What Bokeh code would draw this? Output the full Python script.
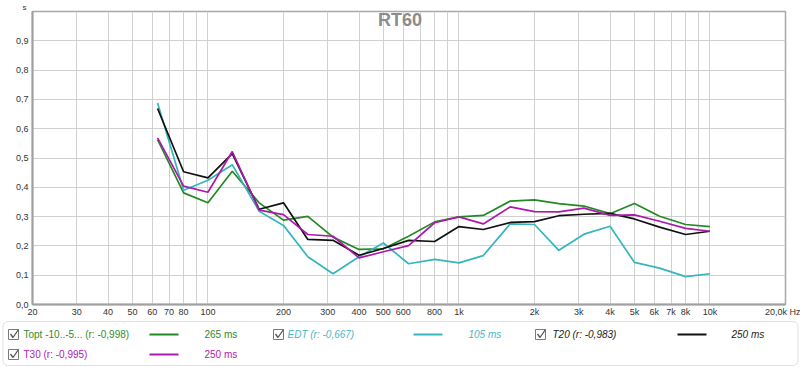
from bokeh.plotting import figure
from bokeh.models import Range1d, FixedTicker, Label, BoxAnnotation, ColumnDataSource
from bokeh.embed import file_html
from bokeh.resources import INLINE
from bokeh.core.properties import value

# ---------------- data ----------------
freqs = [63, 80, 100, 125, 160, 200, 250, 315, 400, 500, 630, 800,
         1000, 1250, 1600, 2000, 2500, 3150, 4000, 5000, 6300, 8000, 10000]

topt = [0.563, 0.381, 0.347, 0.455, 0.347, 0.288, 0.301, 0.230, 0.188, 0.190, 0.233, 0.282,
        0.299, 0.304, 0.353, 0.357, 0.344, 0.336, 0.310, 0.345, 0.301, 0.273, 0.266]
edt = [0.688, 0.390, 0.424, 0.477, 0.318, 0.270, 0.163, 0.105, 0.163, 0.210, 0.139, 0.154,
       0.142, 0.167, 0.275, 0.273, 0.185, 0.240, 0.267, 0.144, 0.124, 0.095, 0.105]
t20 = [0.669, 0.453, 0.432, 0.515, 0.325, 0.347, 0.222, 0.219, 0.168, 0.191, 0.219, 0.215,
       0.266, 0.256, 0.280, 0.283, 0.303, 0.308, 0.311, 0.292, 0.264, 0.239, 0.250]
t30 = [0.569, 0.404, 0.383, 0.522, 0.322, 0.307, 0.239, 0.233, 0.159, 0.180, 0.201, 0.279,
       0.299, 0.275, 0.333, 0.317, 0.316, 0.329, 0.304, 0.306, 0.284, 0.260, 0.250]

series = [topt, edt, t20, t30]
legend_labels = ["Topt -10..-5... (r: -0,998)", "EDT (r: -0,667)", "T20 (r: -0,983)", "T30 (r: -0,995)"]
legend_values = ["265 ms", "105 ms", "250 ms", "250 ms"]
legend_italic = [False, True, True, False]
line_colors = ["#238a23", "#35b5be", "#111111", "#ad19ad"]
text_colors = ["#2e8b2e", "#45b8c8", "#222222", "#b020b0"]

y_ticks = [0.0, 0.1, 0.2, 0.3, 0.4, 0.5, 0.6, 0.7, 0.8, 0.9]
y_tick_labels = ["0,0", "0,1", "0,2", "0,3", "0,4", "0,5", "0,6", "0,7", "0,8", "0,9"]
x_ticks = [20, 30, 40, 50, 60, 70, 80, 90, 100, 200, 300, 400, 500, 600, 700, 800, 900,
           1000, 2000, 3000, 4000, 5000, 6000, 7000, 8000, 9000, 10000, 20000]
x_tick_labels = ["20", "30", "40", "50", "60", "70", "80", "", "100", "200", "300", "400", "500",
                 "600", "", "800", "", "1k", "2k", "3k", "4k", "5k", "6k", "7k", "8k", "", "10k",
                 "20,0k Hz"]
title_text = "RT60"
y_unit = "s"

FONT = "Liberation Sans"
W = 800
H_MAIN = 319
H_LEG = 48
FL, FR, FT, FB = 32, 785, 11, 305   # frame edges on the canvas

# ---------------- main plot ----------------
p = figure(width=W, height=H_MAIN, x_axis_type="log",
           x_range=Range1d(20, 20000), y_range=Range1d(0, 1.0),
           toolbar_location=None, output_backend="svg",
           min_border_left=FL, min_border_right=W - FR, min_border_top=FT,
           min_border_bottom=H_MAIN - FB)
p.background_fill_color = "white"
p.border_fill_color = "white"
p.outline_line_color = "#a8a8a8"
p.outline_line_width = 1.5

# unit label "s" drawn as the (left aligned) title above the frame
p.title.text = y_unit
p.title.align = "left"
p.title.offset = -10
p.title.standoff = 0
p.title.text_font = FONT
p.title.text_font_size = "8px"
p.title.text_font_style = "normal"
p.title.text_color = "#333333"

p.xaxis.ticker = FixedTicker(ticks=x_ticks)
p.yaxis.ticker = FixedTicker(ticks=y_ticks)
p.xaxis.major_label_overrides = {t: l for t, l in zip(x_ticks, x_tick_labels)}
p.yaxis.major_label_overrides = {t: l for t, l in zip(y_ticks, y_tick_labels)}
for ax in (p.xaxis, p.yaxis):
    ax.axis_line_color = "#a0a0a0"
    ax.axis_line_width = 2
    ax.major_tick_line_color = None
    ax.minor_tick_line_color = None
    ax.major_tick_out = 0
    ax.major_tick_in = 0
    ax.minor_tick_out = 0
    ax.minor_tick_in = 0
    ax.major_label_text_font = FONT
    ax.major_label_text_font_size = "9px"
    ax.major_label_text_color = "#333333"
p.xaxis.major_label_standoff = 2
p.yaxis.major_label_standoff = 4
p.xgrid.ticker = FixedTicker(ticks=x_ticks)
p.ygrid.ticker = FixedTicker(ticks=y_ticks)
p.grid.grid_line_color = "#d0d0d0"
p.grid.grid_line_width = 1

for vals, col in zip(series, line_colors):
    p.line(freqs, vals, line_color=col, line_width=1.7)

p.add_layout(Label(x=399.5 - FL, y=FB - 10.5, x_units="screen", y_units="screen",
                   text=title_text, text_align="center", text_baseline="top",
                   text_font=FONT, text_font_size="18px", text_font_style="bold",
                   text_color="#8c8c8c"))

# ---------------- legend panel (separate root below the plot) ----------------
lg = figure(width=W, height=H_LEG, x_range=Range1d(0, W), y_range=Range1d(H_LEG, 0),
            toolbar_location=None, output_backend="svg", min_border=0,
            x_axis_location=None, y_axis_location=None)
lg.outline_line_color = None
lg.grid.visible = False
lg.background_fill_color = "white"
lg.border_fill_color = "white"

TOP = H_MAIN  # canvas y of the legend panel's top edge
lg.add_layout(BoxAnnotation(left=2.5, right=797.5, top=321 - TOP, bottom=365 - TOP,
                            fill_color=None, line_color="#9a9a9a", line_width=1,
                            border_radius=5))

col_cb = [8, 273, 535]
col_lbl = [23, 287, 552]
col_line = [(149, 178), (413, 442), (677, 706)]
col_val = [204, 468, 731]
row_y = [334 - TOP, 354 - TOP]
item_col = [0, 1, 2, 0]
item_row = [0, 0, 0, 1]

cb_x, cb_y, ck_xs, ck_ys = [], [], [], []
for c, r in zip(item_col, item_row):
    x0 = col_cb[c]
    y = row_y[r]
    cb_x.append(x0 + 5)
    cb_y.append(y)
    ck_xs.append([x0 + 2, x0 + 4.5, x0 + 10])
    ck_ys.append([y - 0.5, y + 3, y - 5])
lg.rect(cb_x, cb_y, width=10, height=10, fill_color="white", line_color="#7a7a7a", line_width=1)
lg.multi_line(ck_xs, ck_ys, line_color="#555555", line_width=1.3)

lg.segment(x0=[col_line[c][0] for c in item_col], x1=[col_line[c][1] for c in item_col],
           y0=[row_y[r] for r in item_row], y1=[row_y[r] for r in item_row],
           line_color=line_colors, line_width=2)

for italic in (False, True):
    idx = [i for i in range(4) if legend_italic[i] == italic]
    src = ColumnDataSource(dict(
        x=[col_lbl[item_col[i]] for i in idx] + [col_val[item_col[i]] for i in idx],
        y=[row_y[item_row[i]] for i in idx] * 2,
        t=[legend_labels[i] for i in idx] + [legend_values[i] for i in idx],
        c=[text_colors[i] for i in idx] * 2,
    ))
    lg.text(x="x", y="y", text="t", text_color="c", source=src,
            text_font=value(FONT), text_font_size="10px",
            text_font_style="italic" if italic else "normal",
            text_align="left", text_baseline="middle")

open("out.html", "w").write(file_html([p, lg], INLINE))
